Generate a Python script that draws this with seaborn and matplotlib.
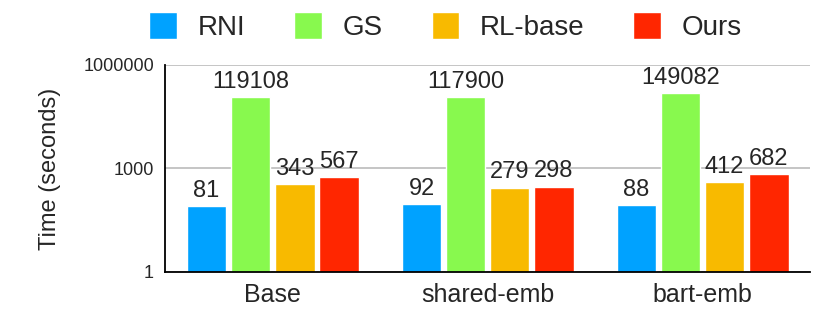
import seaborn as sns
import matplotlib.pyplot as plt
import pandas as pd
from matplotlib.patches import Patch

categories = ["Base", "shared-emb", "bart-emb"]
methods = ["RNI", "GS", "RL-base", "Ours"]
rni = [81, 92, 88]
gs = [119108, 117900, 149082]
rl_base = [343, 279, 412]
ours = [567, 298, 682]
colors = ["#00A2FF", "#88F94E", "#F8BA00", "#FF2600"]

rows = []
for m, vals in zip(methods, [rni, gs, rl_base, ours]):
    for c, v in zip(categories, vals):
        rows.append({"setting": c, "method": m, "time": v})
df = pd.DataFrame(rows)

sns.set_style("white")
plt.rcParams["font.family"] = ["Liberation Sans", "DejaVu Sans"]

fig = plt.figure(figsize=(8.3, 3.18), dpi=100)
ax = fig.add_axes([0.199, 0.145, 0.777, 0.651])
ax.set_yscale("log")
sns.barplot(df, x="setting", y="time", hue="method", palette=colors,
            width=0.82, gap=0.1, saturation=1, ax=ax, legend=False)

for cont in ax.containers:
    ax.bar_label(cont, padding=3, fontsize=17)

ax.set_ylim(1, 1000000)
ax.set_xlim(-0.5, 2.5)
ax.set_yticks([1, 1000, 1000000])
ax.set_yticklabels(["1", "1000", "1000000"])
ax.minorticks_off()
ax.yaxis.grid(True, color="#BBBBBB", linewidth=1.2)
ax.set_axisbelow(True)
ax.tick_params(axis="y", length=0, labelsize=13, pad=8)
ax.tick_params(axis="x", length=0, labelsize=18, pad=8)
for s in ["top", "right"]:
    ax.spines[s].set_visible(False)
for s in ["left", "bottom"]:
    ax.spines[s].set_color("black")
    ax.spines[s].set_linewidth(1.3)
ax.set_xlabel("")
ax.set_ylabel("Time (seconds)", fontsize=17, labelpad=16)

handles = [Patch(facecolor=c, label=m) for c, m in zip(colors, methods)]
fig.legend(handles=handles, loc="upper center", bbox_to_anchor=(0.537, 1.04),
           ncol=4, frameon=False, fontsize=20, handlelength=1.0, handleheight=1.1,
           columnspacing=1.75, handletextpad=0.75)

fig.savefig("out.png", dpi=100)
